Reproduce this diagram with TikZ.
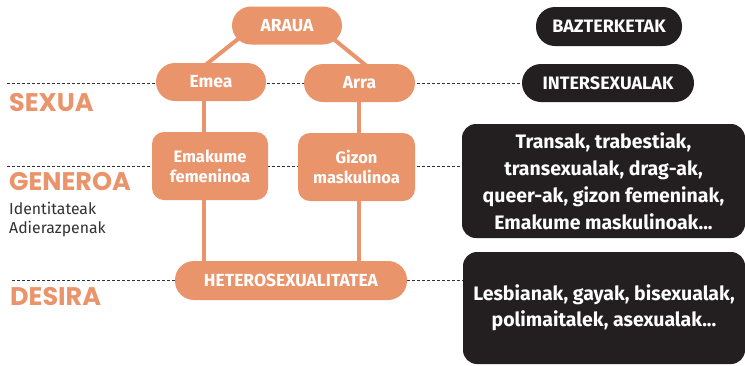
\documentclass[tikz,border=0pt]{standalone}
\usepackage{fontspec}
\setmainfont{Fira Sans}
\newfontfamily\headfont{Poppins}
\usetikzlibrary{backgrounds}
\definecolor{orng}{RGB}{234,148,108}
\definecolor{blk}{RGB}{35,31,32}
\definecolor{gline}{RGB}{50,50,50}
\begin{document}
\begin{tikzpicture}[x=1pt,y=-1pt,
  pill/.style={fill=orng,text=white,font=\bfseries\fontsize{17.5}{20}\selectfont,rounded corners=19pt,minimum height=38pt,inner sep=0pt},
  obox/.style={fill=orng,text=white,font=\bfseries\fontsize{16.5}{20}\selectfont,rounded corners=12pt,minimum height=68pt,inner sep=0pt,align=center},
  bpill/.style={fill=blk,text=white,font=\bfseries\fontsize{18}{20}\selectfont,rounded corners=19pt,minimum height=39pt,inner sep=0pt},
  bbox/.style={fill=blk,text=white,font=\bfseries\fontsize{19.5}{27}\selectfont,rounded corners=14pt,inner sep=0pt,align=center},
  conn/.style={draw=orng,line width=4pt},
  guide/.style={draw=gline,line width=0.9pt,dash pattern=on 3pt off 2pt},
  head/.style={text=orng,font=\headfont\bfseries\fontsize{25.5}{27}\selectfont,anchor=west,inner sep=0pt},
  sub/.style={text=gline,font=\fontsize{15.8}{18}\selectfont,anchor=west,inner sep=0pt}]
\useasboundingbox (0,0) rectangle (745,365);

\node[pill,minimum width=110pt] (araua) at (287,25.5) {ARAUA};
\node[pill,minimum width=110pt] (emea) at (211,82) {Emea};
\node[pill,minimum width=111pt] (arra) at (359.5,83) {Arra};
\node[obox,minimum width=116pt] (emak) at (210,166) {Emakume\\femeninoa};
\node[obox,minimum width=117pt] (gizon) at (356.5,167) {Gizon\\maskulinoa};
\node[pill,minimum width=232pt,minimum height=39pt] (hetero) at (291,280.5) {HETEROSEXUALITATEA};

\node[bpill,minimum width=146pt] (bazter) at (609,26.5) {BAZTERKETAK};
\node[bpill,minimum width=172pt,minimum height=38pt] (inter) at (608,83) {INTERSEXUALAK};
\node[bbox,minimum width=283pt,minimum height=114pt] (trans) at (603.5,181) {Transak, trabestiak,\\transexualak, drag-ak,\\queer-ak, gizon femeninak,\\Emakume maskulinoak...};
\node[bbox,minimum width=282pt,minimum height=112pt,font=\bfseries\fontsize{19.5}{26}\selectfont] (lesb) at (604,308) {Lesbianak, gayak, bisexualak,\\polimaitalek, asexualak...};

\node[head] (sexua) at (9,103) {SEXUA};
\node[head] (generoa) at (9,181.5) {GENEROA};
\node[sub] (ident) at (9,208.5) {Identitateak};
\node[sub] (adier) at (9,229.5) {Adierazpenak};
\node[head] (desira) at (10,297) {DESIRA};

\coordinate (g1) at (7,83);
\coordinate (g2) at (7,166);
\coordinate (g3) at (12,280);

\begin{scope}[on background layer]
\fill[white] (0,0) rectangle (745,365);
\draw[guide] (g1) -- (g1 -| inter.west);
\draw[guide] (g2) -- (g2 -| trans.west);
\draw[guide] (g3) -- (g3 -| lesb.west);
\draw[conn] ([xshift=-32pt]araua.center) -- ([xshift=-27pt]emea.center);
\draw[conn] ([xshift=30pt]araua.center) -- ([xshift=28pt]arra.center);
\draw[conn] ([xshift=-7pt]emea.center) -- ([xshift=-7pt]emea.center |- hetero.center);
\draw[conn] ([xshift=-0.5pt]arra.center) -- ([xshift=-0.5pt]arra.center |- hetero.center);
\end{scope}
\end{tikzpicture}
\end{document}
